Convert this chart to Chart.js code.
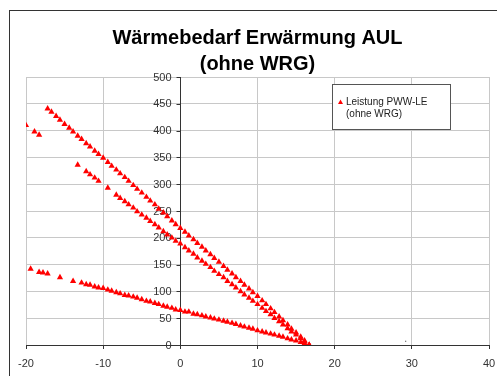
<!DOCTYPE html>
<html>
<head>
<meta charset="utf-8">
<script src="https://cdn.jsdelivr.net/npm/chart.js@4"></script>
<style>
html, body { margin: 0; padding: 0; background: #fff; }
#wrap { width: 497px; height: 376px; position: relative; }
</style>
</head>
<body>
<div id="wrap"><canvas id="myChart" width="497" height="376"></canvas></div>
<script>
// Titel und Legende
const titelZeilen = ['Wärmebedarf Erwärmung AUL', '(ohne WRG)'];
const serienName = ['Leistung PWW-LE', '(ohne WRG)'];

// Achsen
const xTicks = [-20, -10, 0, 10, 20, 30, 40];
const yTicks = [0, 50, 100, 150, 200, 250, 300, 350, 400, 450, 500];
const yAchseBei = 0; // y-Achse kreuzt bei x = 0

// Außentemperatur (°C) für Kurve A
const tempA = [-17.2, -16.7, -16.1, -15.6, -15.0, -14.4, -13.9, -13.3, -12.8, -12.2,
    -11.7, -11.1, -10.6, -10.0, -9.4, -8.9, -8.3, -7.8, -7.2, -6.7,
    -6.1, -5.6, -5.0, -4.4, -3.9, -3.3, -2.8, -2.2, -1.7, -1.1,
    -0.6, 0, 0.6, 1.1, 1.7, 2.2, 2.8, 3.3, 3.9, 4.4,
    5.0, 5.6, 6.1, 6.7, 7.2, 7.8, 8.3, 8.9, 9.4, 10.0,
    10.6, 11.1, 11.7, 12.2, 12.8, 13.3, 13.9, 14.4, 15.0, 15.6,
    16.1, 16.7];
const leistungA = [441, 435, 427, 420, 412, 405, 398, 390, 384, 376,
    370, 362, 356, 349, 341, 334, 327, 320, 313, 306,
    298, 291, 284, 276, 269, 262, 254, 247, 240, 232,
    225, 218, 211, 204, 197, 190, 183, 176, 169, 162,
    155, 147, 140, 133, 126, 119, 112, 105, 98, 91,
    83, 76, 68, 61, 53, 46, 38, 30, 23, 15,
    8, 0];

// Kurve B
const tempB = [-13.3, -12.2, -11.7, -11.1, -10.6, -9.4, -8.3, -7.8, -7.2, -6.7,
    -6.1, -5.6, -5.0, -4.4, -3.9, -3.3, -2.8, -2.2, -1.7, -1.1,
    -0.6, 0, 0.6, 1.1, 1.7, 2.2, 2.8, 3.3, 3.9, 4.4,
    5.0, 5.6, 6.1, 6.7, 7.2, 7.8, 8.3, 8.9, 9.4, 10.0,
    10.6, 11.1, 11.7, 12.2, 12.8, 13.3, 13.9, 14.4, 15.0, 15.6,
    16.1, 16.7];
const leistungB = [336, 324, 318, 312, 306, 293, 280, 274, 268, 262,
    256, 249, 243, 237, 231, 225, 219, 212, 206, 200,
    194, 189, 182, 176, 170, 163, 157, 151, 145, 138,
    132, 126, 119, 113, 107, 100, 94, 88, 82, 76,
    69, 63, 57, 50, 44, 38, 31, 25, 19, 12,
    6, 0];

// Kurve C
const tempC = [-19.4, -18.3, -17.8, -17.2, -15.6, -13.9, -12.8, -12.2, -11.7, -11.1,
    -10.6, -10.0, -9.4, -8.9, -8.3, -7.8, -7.2, -6.7, -6.1, -5.6,
    -5.0, -4.4, -3.9, -3.3, -2.8, -2.2, -1.7, -1.1, -0.6, 0,
    0.6, 1.1, 1.7, 2.2, 2.8, 3.3, 3.9, 4.4, 5.0, 5.6,
    6.1, 6.7, 7.2, 7.8, 8.3, 8.9, 9.4, 10.0, 10.6, 11.1,
    11.7, 12.2, 12.8, 13.3, 13.9, 14.4, 15.0, 15.6, 16.1, 16.7];
const leistungC = [142, 136, 135, 133, 126, 119, 116, 113, 112, 109,
    107, 106, 103, 101, 98, 96, 93, 92, 90, 88,
    85, 82, 81, 78, 76, 73, 71, 69, 66, 65,
    62, 62, 58, 57, 55, 53, 51, 49, 47, 45,
    43, 41, 39, 36, 34, 32, 30, 27, 25, 23,
    21, 19, 17, 15, 12, 10, 8, 5, 3, 0];

// einzelne Punkte oben links
const tempEinzeln = [-20.0, -18.9, -18.3];
const leistungEinzeln = [410, 398, 392];

// kleiner Punkt rechts unten
const tempPunkt = [29.2];
const leistungPunkt = [7];

function paare(xs, ys) {
    return xs.map((x, i) => ({ x: x, y: ys[i] }));
}

const schrift = '"Liberation Sans", Arial, sans-serif';
const gitter = '#c8c8c8';
const achse = '#333';

const rahmenPlugin = {
    id: 'rahmen',
    beforeDraw(chart) {
        const ctx = chart.ctx;
        ctx.save();
        ctx.fillStyle = '#fff';
        ctx.fillRect(0, 0, chart.width, chart.height);
        ctx.strokeStyle = achse;
        ctx.lineWidth = 1;
        ctx.strokeRect(9.5, 10.5, chart.width + 20, chart.height + 20);
        ctx.restore();
    },
    beforeDatasetsDraw(chart) {
        // y-Achse bei x = 0 mit Strichen und Beschriftung
        const ctx = chart.ctx;
        const xs = chart.scales.x, ys = chart.scales.y;
        const ax = Math.round(xs.getPixelForValue(yAchseBei)) + 0.5;
        ctx.save();
        ctx.strokeStyle = achse;
        ctx.lineWidth = 1;
        ctx.beginPath();
        ctx.moveTo(ax, chart.chartArea.top);
        ctx.lineTo(ax, chart.chartArea.bottom);
        yTicks.forEach(v => {
            const py = Math.round(ys.getPixelForValue(v)) + 0.5;
            ctx.moveTo(ax - 4, py);
            ctx.lineTo(ax, py);
        });
        ctx.stroke();
        ctx.fillStyle = achse;
        ctx.font = '11px ' + schrift;
        ctx.textAlign = 'right';
        ctx.textBaseline = 'middle';
        yTicks.forEach(v => {
            ctx.fillText(String(v), ax - 9, ys.getPixelForValue(v) + 0.5);
        });
        ctx.restore();
    },
    afterDraw(chart) {
        const ctx = chart.ctx;
        ctx.save();
        ctx.fillStyle = '#fff';
        ctx.fillRect(332.5, 84.5, 118, 45);
        ctx.strokeStyle = '#555';
        ctx.lineWidth = 1;
        ctx.strokeRect(332.5, 84.5, 118, 45);
        // Marker
        ctx.fillStyle = '#ff0000';
        ctx.beginPath();
        ctx.moveTo(340.5, 99.5);
        ctx.lineTo(343, 104);
        ctx.lineTo(338, 104);
        ctx.closePath();
        ctx.fill();
        ctx.fillStyle = '#222';
        ctx.font = '10px ' + schrift;
        ctx.textBaseline = 'middle';
        ctx.textAlign = 'left';
        ctx.fillText(serienName[0], 346, 102);
        ctx.fillText(serienName[1], 346, 114);
        ctx.restore();
    }
};

const ctx = document.getElementById('myChart').getContext('2d');
const myChart = new Chart(ctx, {
    type: 'scatter',
    data: {
        datasets: [{
            label: serienName.join(' '),
            data: paare(tempEinzeln, leistungEinzeln)
                .concat(paare(tempA, leistungA))
                .concat(paare(tempB, leistungB))
                .concat(paare(tempC, leistungC)),
            pointStyle: 'triangle',
            pointRadius: 3.6,
            pointBorderWidth: 0,
            backgroundColor: '#ff0000',
            borderColor: '#ff0000',
            showLine: false
        }, {
            label: '',
            data: paare(tempPunkt, leistungPunkt),
            pointStyle: 'rect',
            pointRadius: 0.8,
            pointBorderWidth: 0,
            backgroundColor: '#444',
            showLine: false
        }]
    },
    options: {
        responsive: false,
        animation: false,
        events: [],
        layout: { padding: { left: 26, right: 8, top: 0, bottom: 6 } },
        plugins: {
            legend: { display: false },
            tooltip: { enabled: false },
            title: {
                display: true,
                text: titelZeilen,
                color: '#000',
                font: { family: schrift, size: 20, weight: 'bold', lineHeight: 1.3 },
                padding: { top: 25, bottom: 0 }
            }
        },
        scales: {
            x: {
                type: 'linear',
                min: xTicks[0],
                max: xTicks[xTicks.length - 1],
                afterBuildTicks: (s) => { s.ticks = xTicks.map(v => ({ value: v })); },
                afterFit: (s) => { s.paddingLeft = 0; s.paddingRight = 0; s.height = 25; },
                ticks: { color: achse, font: { family: schrift, size: 11 }, padding: 8, maxRotation: 0 },
                grid: {
                    color: (c) => (c.tick && c.tick.value === yAchseBei) ? 'rgba(0,0,0,0)' : gitter,
                    tickColor: achse,
                    tickLength: 4
                },
                border: { color: achse, width: 1 }
            },
            y: {
                type: 'linear',
                position: 'left',
                min: yTicks[0],
                max: yTicks[yTicks.length - 1],
                afterBuildTicks: (s) => { s.ticks = yTicks.map(v => ({ value: v })); },
                afterFit: (s) => { s.paddingTop = 0; s.paddingBottom = 0; s.width = 0; },
                ticks: { display: false },
                grid: {
                    color: (c) => (c.tick && c.tick.value === 0) ? 'rgba(0,0,0,0)' : gitter,
                    drawTicks: false
                },
                border: { display: false }
            }
        }
    },
    plugins: [rahmenPlugin]
});
</script>
</body>
</html>
